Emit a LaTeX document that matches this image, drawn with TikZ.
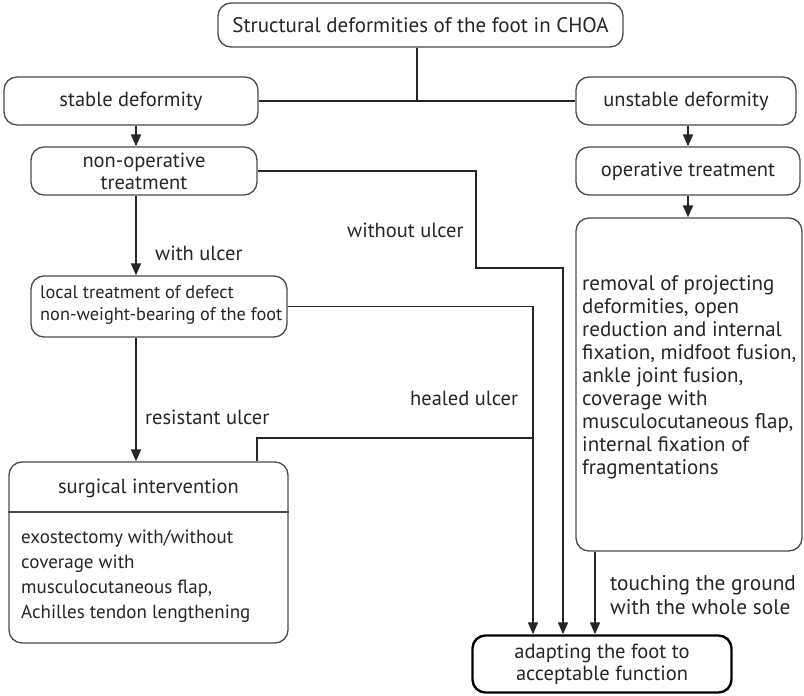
\documentclass[tikz,border=0pt]{standalone}
\usepackage{fontspec}
\setmainfont{PT Sans}
\usetikzlibrary{arrows.meta}
\definecolor{ink}{HTML}{262626}
\definecolor{boxgray}{HTML}{4A4A4A}
\begin{document}
\begin{tikzpicture}[x=1pt,y=-1pt,
  box/.style={draw=boxgray, line width=1.3pt, rounded corners=13pt, align=center,
    inner sep=0pt, text=ink, font=\fontsize{20.5}{22}\selectfont},
  flow/.style={draw=ink, line width=1.7pt},
  arr/.style={flow, -{Triangle[width=10pt,length=12pt]}},
  lbl/.style={anchor=west, inner sep=0pt, text=ink, align=left,
    font=\fontsize{20.5}{24}\selectfont}
]
\useasboundingbox (0,0) rectangle (804,696);
\fill[white] (0,0) rectangle (804,696);

% boxes
\node[box, minimum width=405pt, minimum height=44pt, font=\fontsize{21}{22}\selectfont] (top) at (420.5,25)
  {Structural deformities of the foot in CHOA};
\node[box, minimum width=254pt, minimum height=48pt] (stable) at (131,101)
  {stable deformity};
\node[box, minimum width=220pt, minimum height=48pt] (unstable) at (686,101)
  {unstable deformity};
\node[box, minimum width=226pt, minimum height=48pt] (nonop) at (144,171)
  {non-operative\\treatment};
\node[box, minimum width=224pt, minimum height=48pt] (oper) at (688,171)
  {operative treatment};
\node[box, minimum width=256pt, minimum height=61pt] (local) at (159,306.5) {};
\node[anchor=west, inner sep=0pt, align=left, text=ink,
  font=\fontsize{18.3}{22}\selectfont] (localtext) at (40,305)
  {local treatment of defect\\non-weight-bearing of the foot};
\node[box, minimum width=226pt, minimum height=333pt] (removal) at (689,384.5) {};
\node[anchor=west, inner sep=0pt, align=left, text=ink,
  font=\fontsize{21}{23}\selectfont] (removaltext) at (582,377)
  {removal of projecting\\deformities, open\\reduction and internal\\fixation, midfoot fusion,\\ankle joint fusion,\\coverage with\\musculocutaneous flap,\\internal fixation of\\fragmentations};
\node[box, minimum width=279pt, minimum height=181pt] (surg) at (148.5,552.5) {};
\node[inner sep=0pt, text=ink, font=\fontsize{20.5}{22}\selectfont] (surgtitle) at (148.5,488)
  {surgical intervention};
\draw[draw=boxgray, line width=1.3pt] (surg.west |- 0,512) -- (surg.east |- 0,512);
\node[anchor=west, inner sep=0pt, align=left, text=ink,
  font=\fontsize{19}{25}\selectfont] (surgtext) at (21,576)
  {exostectomy with/without\\coverage with\\musculocutaneous flap,\\Achilles tendon lengthening};
\node[box, draw=black, line width=2.4pt, minimum width=259pt, minimum height=57pt,
  font=\fontsize{20.5}{22}\selectfont] (adapt) at (602,664)
  {adapting the foot to\\acceptable function};

% bend points of the connectors
\coordinate (xl) at (136,0);
\coordinate (xr) at (688,0);
\coordinate (junc) at (417,101);
\coordinate (wo1) at (476,268);
\coordinate (xwo) at (563,0);
\coordinate (xheal) at (533,0);
\coordinate (sj) at (257,438);
\coordinate (xtouch) at (595,0);

% connectors
\draw[flow] (top.south -| junc) -- (junc);
\draw[flow] (stable.east) -- (unstable.west);
\draw[arr] (stable.south -| xl) -- (nonop.north -| xl);
\draw[arr] (nonop.south -| xl) -- (local.north -| xl);
\draw[arr] (local.south -| xl) -- (surg.north -| xl);
\draw[arr] (unstable.south -| xr) -- (oper.north -| xr);
\draw[arr] (oper.south -| xr) -- (removal.north -| xr);
\draw[arr] (nonop.east) -| (wo1) -| (adapt.north -| xwo);
\draw[arr] (local.east) -| (adapt.north -| xheal);
\draw[flow] (surg.north -| sj) -- (sj) -- (sj -| xheal);
\draw[arr] (removal.south -| xtouch) -- (adapt.north -| xtouch);

% connector labels
\node[lbl] (l1) at (155,253) {with ulcer};
\node[lbl] (l2) at (347,230) {without ulcer};
\node[lbl] (l3) at (145,417) {resistant ulcer};
\node[lbl] (l4) at (410,398) {healed ulcer};
\node[lbl, font=\fontsize{21.3}{24}\selectfont] (l5) at (610,595) {touching the ground\\with the whole sole};
\end{tikzpicture}
\end{document}
